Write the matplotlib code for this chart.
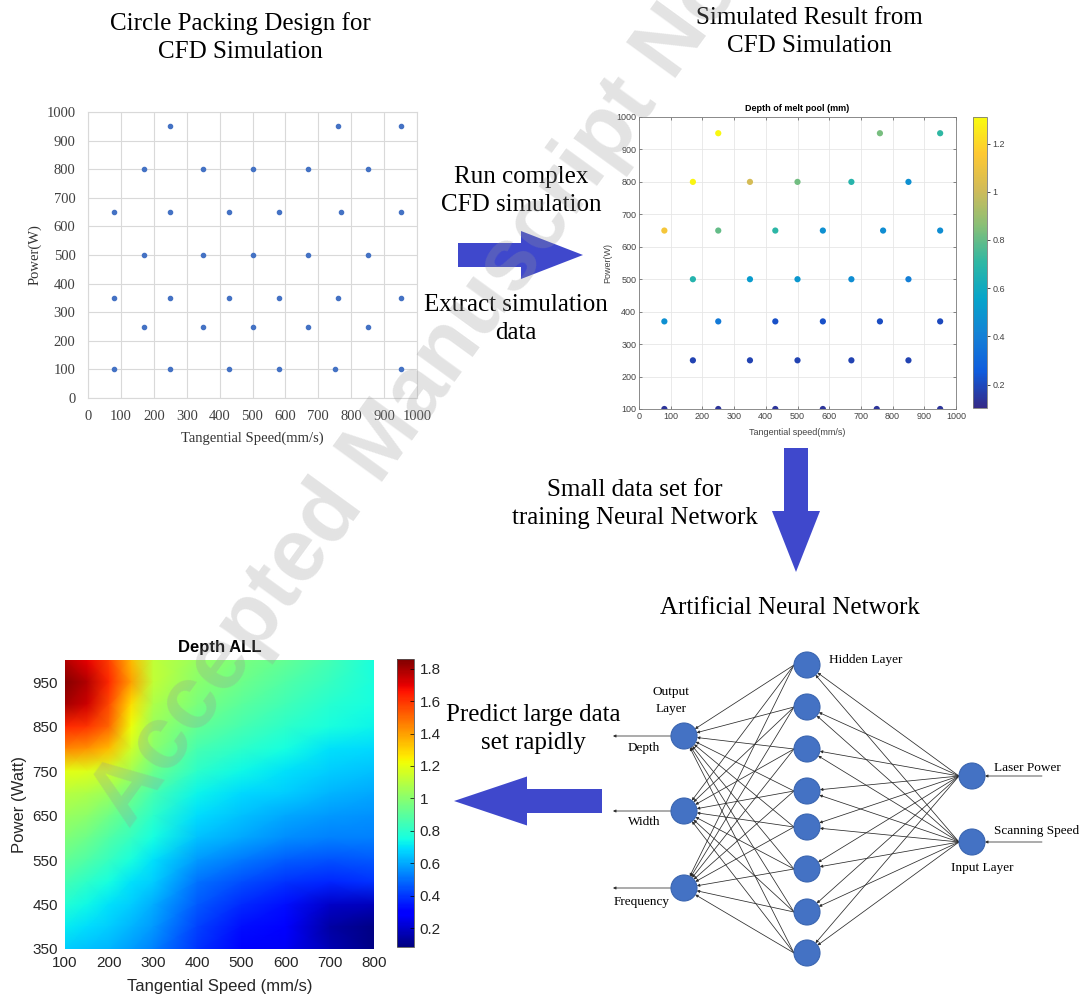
import numpy as np
import matplotlib
matplotlib.use("Agg")
import matplotlib.pyplot as plt
from matplotlib.colors import LinearSegmentedColormap
from matplotlib.patches import Circle, FancyArrow

# ---------------------------------------------------------------- data
# circle packing design points (tangential speed mm/s, power W)
design_speed = [250, 760, 950,
                170, 350, 500, 670, 850,
                80, 250, 430, 580, 770, 950,
                170, 350, 500, 670, 850,
                80, 250, 430, 580, 760, 950,
                170, 350, 500, 670, 850,
                80, 250, 430, 580, 750, 950]
design_power = [950, 950, 950,
                800, 800, 800, 800, 800,
                650, 650, 650, 650, 650, 650,
                500, 500, 500, 500, 500,
                350, 350, 350, 350, 350, 350,
                250, 250, 250, 250, 250,
                100, 100, 100, 100, 100, 100]

# CFD simulated melt pool depth (mm)
sim_speed = [250, 760, 950,
             170, 350, 500, 670, 850,
             80, 250, 430, 580, 770, 950,
             170, 350, 500, 670, 850,
             80, 250, 430, 580, 760, 950,
             170, 350, 500, 670, 850,
             80, 250, 430, 580, 750, 950]
sim_power = [950, 950, 950,
             800, 800, 800, 800, 800,
             650, 650, 650, 650, 650, 650,
             500, 500, 500, 500, 500,
             370, 370, 370, 370, 370, 370,
             250, 250, 250, 250, 250,
             100, 100, 100, 100, 100, 100]
sim_depth = [1.30, 0.83, 0.71,
             1.29, 1.02, 0.82, 0.68, 0.47,
             1.13, 0.80, 0.70, 0.47, 0.46, 0.46,
             0.67, 0.52, 0.50, 0.46, 0.40,
             0.47, 0.38, 0.22, 0.22, 0.21, 0.20,
             0.18, 0.18, 0.18, 0.18, 0.18,
             0.14, 0.14, 0.14, 0.14, 0.14, 0.14]

# neural network prediction over the full process window
pred_speed = [100, 150, 200, 250, 300, 400, 500, 600, 700, 800]
pred_power = [1000, 950, 900, 850, 800, 750, 700, 650, 600, 550, 500, 450, 400, 350]
pred_depth = [
    [1.78, 1.70, 1.58, 1.35, 1.12, 1.03, 0.97, 0.92, 0.85, 0.76],
    [1.85, 1.78, 1.62, 1.40, 1.12, 1.00, 0.94, 0.88, 0.82, 0.76],
    [1.80, 1.74, 1.56, 1.28, 1.08, 0.97, 0.90, 0.84, 0.79, 0.75],
    [1.62, 1.60, 1.50, 1.22, 1.04, 0.92, 0.86, 0.80, 0.76, 0.73],
    [1.45, 1.42, 1.34, 1.15, 1.00, 0.86, 0.80, 0.75, 0.70, 0.68],
    [1.20, 1.18, 1.15, 1.06, 0.94, 0.80, 0.74, 0.70, 0.66, 0.64],
    [1.10, 1.08, 1.04, 0.95, 0.86, 0.73, 0.68, 0.66, 0.62, 0.60],
    [1.04, 1.01, 0.95, 0.88, 0.80, 0.69, 0.64, 0.60, 0.57, 0.56],
    [0.98, 0.94, 0.88, 0.82, 0.75, 0.64, 0.60, 0.55, 0.53, 0.53],
    [0.92, 0.88, 0.82, 0.76, 0.70, 0.57, 0.52, 0.47, 0.45, 0.46],
    [0.85, 0.80, 0.75, 0.70, 0.66, 0.50, 0.44, 0.39, 0.37, 0.39],
    [0.78, 0.74, 0.70, 0.66, 0.61, 0.46, 0.38, 0.33, 0.20, 0.18],
    [0.72, 0.69, 0.66, 0.62, 0.57, 0.42, 0.33, 0.28, 0.14, 0.09],
    [0.66, 0.64, 0.62, 0.58, 0.53, 0.39, 0.30, 0.27, 0.16, 0.09],
]

output_names = ["Depth", "Width", "Frequency"]
input_names = ["Laser Power", "Scanning Speed"]
n_hidden = 8

# ---------------------------------------------------------------- figure
W, H = 1087, 999
fig = plt.figure(figsize=(W / 100, H / 100), dpi=100)
SERIF = "Liberation Serif"
SANS = "Liberation Sans"


def px(l, t, r, b):
    return [l / W, 1 - b / H, (r - l) / W, (b - t) / H]


parula = LinearSegmentedColormap.from_list(
    "parula", ["#352a87", "#0f5cdd", "#1481d6", "#06a4ca", "#2eb7a4",
               "#87bf77", "#d1bb59", "#fec832", "#f9fb0e"])

# ---- circle packing design (spreadsheet style)
ax1 = fig.add_axes(px(88, 112, 417, 398))
ax1.scatter(design_speed, design_power, s=9, color="#4472C4", zorder=3)
ax1.set_xlim(0, 1000)
ax1.set_ylim(0, 1000)
ax1.set_xticks(range(0, 1001, 100))
ax1.set_yticks(range(0, 1001, 100))
ax1.grid(True, color="#d9d9d9", lw=0.8)
ax1.set_axisbelow(True)
for sp in ax1.spines.values():
    sp.set_color("#d9d9d9")
ax1.tick_params(length=0, labelsize=10.5, labelcolor="#404040", pad=9)
for lab in ax1.get_xticklabels() + ax1.get_yticklabels():
    lab.set_family(SERIF)
ax1.set_ylabel("Power(W)", family=SERIF, fontsize=10.5, color="#333333", va="center")
ax1.yaxis.set_label_coords(-0.161, 0.5)
ax1.set_xlabel("Tangential Speed(mm/s)", family=SERIF, fontsize=10.5, color="#333333", va="center")
ax1.xaxis.set_label_coords(0.5, -0.14)

# ---- CFD simulated depth (MATLAB style)
ax2 = fig.add_axes(px(639, 117, 956, 409))
sc = ax2.scatter(sim_speed, sim_power, c=sim_depth, cmap=parula, vmin=0.103, vmax=1.31,
                 s=20, edgecolors="none", zorder=3)
ax2.set_xlim(0, 1000)
ax2.set_ylim(100, 1000)
ax2.set_xticks(range(0, 1001, 100))
ax2.set_yticks(range(100, 1001, 100))
ax2.grid(True, color="#e6e6e6", lw=0.6)
ax2.set_axisbelow(True)
for sp in ax2.spines.values():
    sp.set_color("#7a7a7a")
    sp.set_linewidth(0.6)
ax2.tick_params(direction="in", length=2.5, width=0.5, color="#555555", top=True, right=True,
                labelsize=6.5, labelcolor="#444444", pad=2)
for lab in ax2.get_xticklabels() + ax2.get_yticklabels():
    lab.set_family(SANS)
ax2.set_title("Depth of melt pool (mm)", family=SANS, fontsize=6.5, fontweight="bold", pad=4)
ax2.set_ylabel("Power(W)", family=SANS, fontsize=6.5, color="#444444", va="center")
ax2.yaxis.set_label_coords(-0.10, 0.5)
ax2.set_xlabel("Tangential speed(mm/s)", family=SANS, fontsize=6.5, color="#444444", va="center")
ax2.xaxis.set_label_coords(0.5, -0.082)

cax2 = fig.add_axes(px(973, 117, 987, 408))
cb2 = fig.colorbar(sc, cax=cax2, ticks=[0.2, 0.4, 0.6, 0.8, 1.0, 1.2])
cb2.ax.set_yticklabels(["0.2", "0.4", "0.6", "0.8", "1", "1.2"])
cb2.outline.set_edgecolor("#7a7a7a")
cb2.outline.set_linewidth(0.6)
cax2.tick_params(direction="out", length=2, width=0.5, labelsize=6.5, labelcolor="#444444", pad=2)
for lab in cax2.get_yticklabels():
    lab.set_family(SANS)

# ---- neural network prediction map
ax3 = fig.add_axes(px(65, 660, 374, 949))
PX, PY = np.meshgrid(pred_speed, pred_power)
mesh = ax3.pcolormesh(PX, PY, np.array(pred_depth), shading="gouraud", cmap="jet",
                      vmin=0.083, vmax=1.86)
ax3.set_xlim(100, 800)
ax3.set_ylim(350, 1000)
ax3.set_xticks(range(100, 801, 100))
ax3.set_yticks(range(350, 951, 100))
for sp in ax3.spines.values():
    sp.set_visible(False)
ax3.tick_params(length=0, labelsize=11, labelcolor="#262626", pad=5)
for lab in ax3.get_xticklabels() + ax3.get_yticklabels():
    lab.set_family(SANS)
ax3.set_title("Depth ALL", family=SANS, fontsize=12, fontweight="bold", pad=6)
ax3.set_ylabel("Power (Watt)", family=SANS, fontsize=12, color="#262626", va="center")
ax3.yaxis.set_label_coords(-0.146, 0.5)
ax3.set_xlabel("Tangential Speed (mm/s)", family=SANS, fontsize=12, color="#262626", va="center")
ax3.xaxis.set_label_coords(0.5, -0.131)

cax3 = fig.add_axes(px(397, 659, 414, 947))
cb3 = fig.colorbar(mesh, cax=cax3, ticks=[0.2, 0.4, 0.6, 0.8, 1.0, 1.2, 1.4, 1.6, 1.8])
cb3.ax.set_yticklabels(["0.2", "0.4", "0.6", "0.8", "1", "1.2", "1.4", "1.6", "1.8"])
cb3.outline.set_edgecolor("#555555")
cb3.outline.set_linewidth(0.6)
cax3.tick_params(direction="in", length=3, width=0.5, labelsize=11, labelcolor="#262626", pad=4)
for lab in cax3.get_yticklabels():
    lab.set_family(SANS)

# ---------------------------------------------------------------- overlay (pixel space)
ov = fig.add_axes([0, 0, 1, 1])
ov.set_xlim(0, W)
ov.set_ylim(H, 0)
ov.axis("off")
ov.patch.set_alpha(0)

ARROW = "#3F48CC"


def caption(x, y, lines, gap=28, size=18):
    for i, s in enumerate(lines):
        ov.text(x, y + i * gap, s, family=SERIF, fontsize=size, ha="center", va="center")


caption(240, 24, ["Circle Packing Design for", "CFD Simulation"])
caption(809, 18, ["Simulated Result from", "CFD Simulation"])
caption(521, 177, ["Run complex", "CFD simulation"])
caption(516, 305, ["Extract simulation", "data"])
caption(635, 490, ["Small data set for", "training Neural Network"])
caption(790, 608, ["Artificial Neural Network"])
caption(533, 715, ["Predict large data", "set rapidly"])

ov.add_patch(FancyArrow(458, 255, 125, 0, width=24, head_width=48, head_length=62,
                        length_includes_head=True, color=ARROW, lw=0))
ov.add_patch(FancyArrow(796, 448, 0, 124, width=24, head_width=48, head_length=61,
                        length_includes_head=True, color=ARROW, lw=0))
ov.add_patch(FancyArrow(602, 801, -148, 0, width=24, head_width=49, head_length=73,
                        length_includes_head=True, color=ARROW, lw=0))

# ---- network diagram
R = 13
hid_x, out_x, in_x = 807, 684, 972
hid_y = [665, 707, 749, 791, 827, 869, 912, 953][:n_hidden]
out_y = [736, 811, 888]
in_y = [776, 842]
NODE, EDGE = "#4472C4", "#3a65b0"
LINE = "#2b2b2b"


def link(x0, y0, cx, cy):
    # line from (x0, y0) ending on the rim of the node centred at (cx, cy)
    d = np.hypot(cx - x0, cy - y0)
    x1 = cx - (cx - x0) * R / d
    y1 = cy - (cy - y0) * R / d
    ov.annotate("", xy=(x1, y1), xytext=(x0, y0),
                arrowprops=dict(arrowstyle="-|>", lw=0.55, color=LINE,
                                mutation_scale=4, shrinkA=0, shrinkB=0))


for yi in in_y:
    for yh in hid_y:
        link(in_x - R, yi, hid_x, yh)
for yh in hid_y:
    for yo in out_y:
        link(hid_x - R, yh, out_x, yo)
for yo in out_y:
    ov.annotate("", xy=(613, yo), xytext=(out_x - R, yo),
                arrowprops=dict(arrowstyle="-|>", lw=0.55, color=LINE,
                                mutation_scale=4, shrinkA=0, shrinkB=0))
for yi in in_y:
    ov.annotate("", xy=(in_x + R, yi), xytext=(1042, yi),
                arrowprops=dict(arrowstyle="-|>", lw=0.55, color=LINE,
                                mutation_scale=4, shrinkA=0, shrinkB=0))

for yy in hid_y:
    ov.add_patch(Circle((hid_x, yy), R, facecolor=NODE, edgecolor=EDGE, lw=0.8, zorder=4))
for yy in out_y:
    ov.add_patch(Circle((out_x, yy), R, facecolor=NODE, edgecolor=EDGE, lw=0.8, zorder=4))
for yy in in_y:
    ov.add_patch(Circle((in_x, yy), R, facecolor=NODE, edgecolor=EDGE, lw=0.8, zorder=4))

NET_FS = 9.5
ov.text(671, 692, "Output", family=SERIF, fontsize=NET_FS, ha="center", va="center")
ov.text(671, 709, "Layer", family=SERIF, fontsize=NET_FS, ha="center", va="center")
for name, yy, xx in zip(output_names, [748, 822, 902], [644, 644, 642]):
    ov.text(xx, yy, name, family=SERIF, fontsize=NET_FS, ha="center", va="center")
ov.text(829, 660, "Hidden Layer", family=SERIF, fontsize=NET_FS, ha="left", va="center")
for name, yy in zip(input_names, [768, 831]):
    ov.text(994, yy, name, family=SERIF, fontsize=NET_FS, ha="left", va="center")
ov.text(982, 868, "Input Layer", family=SERIF, fontsize=NET_FS, ha="center", va="center")

# ---- diagonal watermark
ov.text(130, 830, "Accepted Manuscript Not", family=SANS, fontweight="bold",
        fontsize=64, rotation=54, rotation_mode="anchor", ha="left", va="baseline",
        color="#999999", alpha=0.27, zorder=10, clip_on=True)

fig.savefig("out.png", dpi=100)
